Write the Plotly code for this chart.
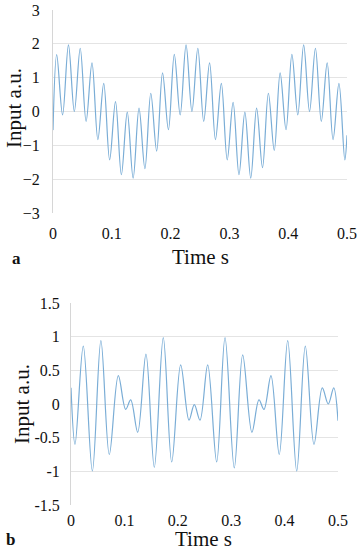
import plotly.graph_objects as go

# ---- data ----
top_t = [0, 0.0063, 0.0163, 0.0263, 0.0363, 0.0463, 0.0563, 0.0663, 0.0763, 0.0863,
         0.0963, 0.1063, 0.1163, 0.1263, 0.1363, 0.1463, 0.1563, 0.1663, 0.1763, 0.1863,
         0.1963, 0.2063, 0.2163, 0.2263, 0.2363, 0.2463, 0.2563, 0.2663, 0.2763, 0.2863,
         0.2963, 0.3063, 0.3163, 0.3263, 0.3363, 0.3463, 0.3563, 0.3663, 0.3763, 0.3863,
         0.3963, 0.4063, 0.4163, 0.4263, 0.4363, 0.4463, 0.4563, 0.4663, 0.4763, 0.4863,
         0.4963, 0.5]
top_v = [-0.55, 1.68, -0.10, 1.97, 0.0, 1.87, -0.29, 1.44, -0.83, 0.83,
         -1.43, 0.29, -1.87, -0.02, -1.97, 0.10, -1.69, 0.54, -1.17, 1.14,
         -0.54, 1.69, -0.10, 1.97, 0.0, 1.87, -0.29, 1.44, -0.83, 0.83,
         -1.43, 0.27, -1.87, -0.02, -1.97, 0.10, -1.66, 0.54, -1.15, 1.14,
         -0.54, 1.69, -0.10, 1.97, 0.0, 1.87, -0.29, 1.44, -0.83, 0.83,
         -1.43, -0.70]

bot_t = [0, 0.0075, 0.023, 0.040, 0.056, 0.0717, 0.0886, 0.1024, 0.1118, 0.1249,
         0.1404, 0.156, 0.1728, 0.1886, 0.2054, 0.221, 0.2309, 0.2416, 0.256, 0.2728,
         0.2884, 0.3058, 0.3215, 0.3388, 0.352, 0.3614, 0.3745, 0.39, 0.4058, 0.4227,
         0.4388, 0.455, 0.4706, 0.4818, 0.492, 0.5]
bot_v = [0.24, -0.60, 0.86, -0.995, 0.94, -0.75, 0.42, -0.08, 0.06, -0.42,
         0.74, -0.94, 0.985, -0.86, 0.58, -0.24, -0.01, -0.24, 0.58, -0.86,
         0.985, -0.95, 0.73, -0.42, 0.06, -0.08, 0.42, -0.75, 0.94, -0.995,
         0.86, -0.60, 0.24, 0.0, 0.24, -0.25]

x_ticks = [0, 0.1, 0.2, 0.3, 0.4, 0.5]
x_ticklabels = ["0", "0.1", "0.2", "0.3", "0.4", "0.5"]
top_yticks = [-3, -2, -1, 0, 1, 2, 3]
bot_yticks = [-1.5, -1, -0.5, 0, 0.5, 1, 1.5]
bot_yticklabels = ["-1.5", "-1", "-0.5", "0", "0.5", "1", "1.5"]

W, H = 359, 551
FONT = "Liberation Serif, Times New Roman, serif"
LINE = "#7aadd6"
GRID = "#e4e4e4"

def px(x):
    return x / W

def py(y):
    return 1 - y / H

fig = go.Figure()
fig.add_trace(go.Scatter(x=top_t, y=top_v, mode="lines", xaxis="x", yaxis="y",
                         line=dict(color=LINE, width=1.2, shape="spline", smoothing=1.0),
                         hoverinfo="skip", showlegend=False))
fig.add_trace(go.Scatter(x=bot_t, y=bot_v, mode="lines", xaxis="x2", yaxis="y2",
                         line=dict(color=LINE, width=1.2, shape="spline", smoothing=1.0),
                         hoverinfo="skip", showlegend=False))

tickfont = dict(family=FONT, size=16, color="#111111")
common_x = dict(range=[0, 0.5], tickvals=x_ticks, ticktext=x_ticklabels, showgrid=False,
                zeroline=False, showline=False, ticks="outside", tickcolor="rgba(0,0,0,0)",
                tickfont=tickfont, fixedrange=True, automargin=False)
common_y = dict(showgrid=True, gridcolor=GRID, gridwidth=1, zeroline=False,
                showline=True, linecolor="#d6d6d6", linewidth=1, ticks="outside",
                tickcolor="rgba(0,0,0,0)", tickfont=tickfont, fixedrange=True,
                automargin=False)

fig.update_layout(
    template="none",
    width=W, height=H,
    margin=dict(l=0, r=0, t=0, b=0, pad=0),
    paper_bgcolor="white", plot_bgcolor="white",
    font=dict(family=FONT, size=16, color="#111111"),
    xaxis=dict(domain=[px(53), px(347)], anchor="y", ticklen=6, **common_x),
    yaxis=dict(domain=[py(213), py(10)], anchor="x", range=[-3, 3], tickvals=top_yticks,
               ticklen=9, **common_y),
    xaxis2=dict(domain=[px(71), px(338)], anchor="y2", ticklen=1, **common_x),
    yaxis2=dict(domain=[py(505), py(303)], anchor="x2", range=[-1.5, 1.5],
                tickvals=bot_yticks, ticktext=bot_yticklabels, ticklen=7, **common_y),
)

titlefont = dict(family=FONT, size=21, color="#111111")
ann = [
    dict(text="Input a.u.", x=px(14), y=py(108), textangle=-90, font=titlefont),
    dict(text="Time s", x=px(200), y=py(257), font=titlefont),
    dict(text="<b>a</b>", x=px(16), y=py(258), font=dict(family=FONT, size=17, color="#111111")),
    dict(text="Input a.u.", x=px(22), y=py(404), textangle=-90, font=titlefont),
    dict(text="Time s", x=px(203), y=py(539), font=titlefont),
    dict(text="<b>b</b>", x=px(10), y=py(539), font=dict(family=FONT, size=17, color="#111111")),
]
for a in ann:
    fig.add_annotation(xref="paper", yref="paper", showarrow=False,
                       xanchor="center", yanchor="middle", **a)

fig.write_html("out.html", config={"displayModeBar": False},
               post_script="document.body.style.margin='0';document.body.style.padding='0';document.body.style.overflow='hidden';")
